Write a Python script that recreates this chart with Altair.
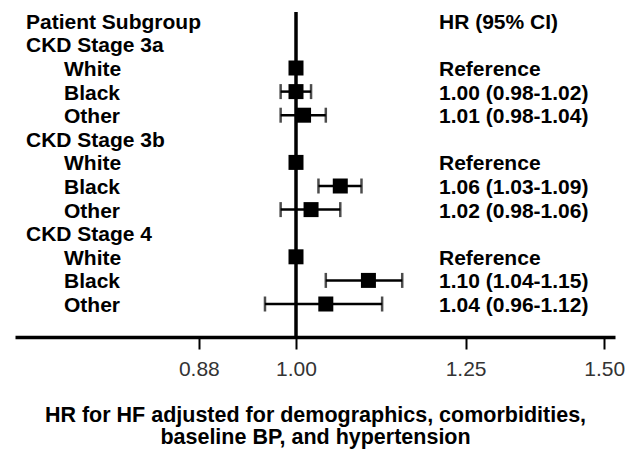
import altair as alt
import pandas as pd

# ---- data ----
row_labels = ["Patient Subgroup", "CKD Stage 3a", "White", "Black", "Other",
              "CKD Stage 3b", "White", "Black", "Other",
              "CKD Stage 4", "White", "Black", "Other"]
row_level = [0, 0, 1, 1, 1, 0, 1, 1, 1, 0, 1, 1, 1]
hr_text = ["HR (95% CI)", "", "Reference", "1.00 (0.98-1.02)", "1.01 (0.98-1.04)",
           "", "Reference", "1.06 (1.03-1.09)", "1.02 (0.98-1.06)",
           "", "Reference", "1.10 (1.04-1.15)", "1.04 (0.96-1.12)"]

est_rows = [2, 3, 4, 6, 7, 8, 10, 11, 12]
hr = [1.00, 1.00, 1.01, 1.00, 1.06, 1.02, 1.00, 1.10, 1.04]
lo = [None, 0.98, 0.98, None, 1.03, 0.98, None, 1.04, 0.96]
hi = [None, 1.02, 1.04, None, 1.09, 1.06, None, 1.15, 1.12]

tick_values = [0.88, 1.00, 1.25, 1.50]

labels_df = pd.DataFrame({
    "row": list(range(len(row_labels))),
    "label": row_labels,
    "level": row_level,
    "hrtext": hr_text,
})
est_df = pd.DataFrame({"row": est_rows, "hr": hr, "lo": lo, "hi": hi})
ci_df = est_df.dropna()

FONT = "Liberation Sans"

xscale = alt.Scale(type="log", domain=[0.6909, 1.5216], nice=False)
yscale = alt.Scale(domain=[-0.373, 13.398], reverse=True, nice=False, zero=False)

y_enc = alt.Y("row:Q", scale=yscale, axis=None)

ref_line = alt.Chart(labels_df).mark_rule(color="black", strokeWidth=3.5).encode(
    x=alt.datum(1.0, scale=xscale, type="quantitative")
).transform_filter("datum.row == 0")

x_axis = alt.Axis(
    values=tick_values, format=".2f", grid=False,
    title=["HR for HF adjusted for demographics, comorbidities,",
           "baseline BP, and hypertension"],
    domainColor="black", domainWidth=3.5,
    tickColor="black", tickWidth=2, tickSize=12,
    labelFont=FONT, labelFontSize=21, labelColor="#333333", labelPadding=9,
    titleFont=FONT, titleFontSize=21.5, titleFontWeight="bold", titleColor="black",
    titlePadding=25, titleLineHeight=22,
)

ci = alt.Chart(ci_df).mark_rule(color="black", strokeWidth=2.5).encode(
    x=alt.X("lo:Q", scale=xscale, axis=x_axis),
    x2="hi:Q",
    y=y_enc,
)

cap_lo = alt.Chart(ci_df).mark_tick(color="black", orient="vertical", size=15, thickness=2.5).encode(
    x=alt.X("lo:Q", scale=xscale), y=y_enc)
cap_hi = alt.Chart(ci_df).mark_tick(color="black", orient="vertical", size=15, thickness=2.5).encode(
    x=alt.X("hi:Q", scale=xscale), y=y_enc)

squares = alt.Chart(est_df).mark_square(color="black", size=225, opacity=1).encode(
    x=alt.X("hr:Q", scale=xscale), y=y_enc)

text_head = alt.Chart(labels_df).mark_text(
    align="left", baseline="middle", font=FONT, fontSize=21, fontWeight="bold",
    color="black", dy=2
).encode(x=alt.value(11), y=y_enc, text="label:N").transform_filter("datum.level == 0")

text_sub = alt.Chart(labels_df).mark_text(
    align="left", baseline="middle", font=FONT, fontSize=21, fontWeight="bold",
    color="black", dy=2
).encode(x=alt.value(49), y=y_enc, text="label:N").transform_filter("datum.level == 1")

text_hr = alt.Chart(labels_df).mark_text(
    align="left", baseline="middle", font=FONT, fontSize=21, fontWeight="bold",
    color="black", dy=2
).encode(x=alt.value(424), y=y_enc, text="hrtext:N")

chart = alt.layer(ci, cap_lo, cap_hi, ref_line, squares, text_head, text_sub, text_hr).properties(
    width=600, height=325,
    background="white",
    autosize=alt.AutoSizeParams(type="none"),
    padding={"left": 7, "top": 4, "right": 12, "bottom": 112},
).configure_view(stroke=None)

chart.save("out.html", embed_options={"renderer": "svg", "actions": False})
